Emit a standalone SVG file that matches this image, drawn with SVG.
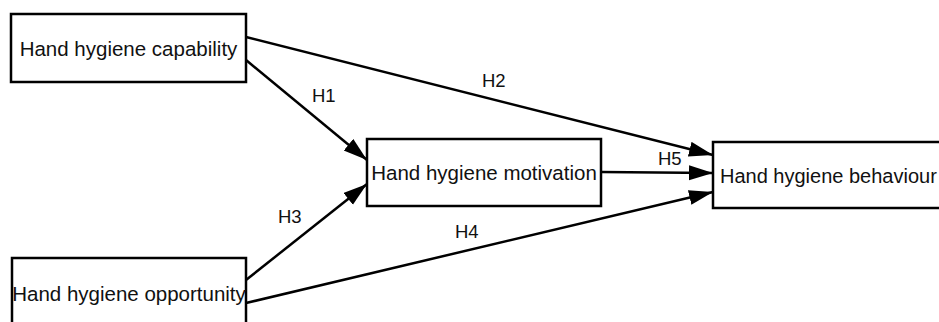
<svg xmlns="http://www.w3.org/2000/svg" width="939" height="322" viewBox="0 0 939 322">
<style>
.box{fill:#fff;stroke:#000;stroke-width:2.5}
.nt{font-family:"Liberation Sans",Arial,sans-serif;font-size:20.5px;fill:#111;text-anchor:middle}
.lbl{font-family:"Liberation Sans",Arial,sans-serif;font-size:18.5px;fill:#111}
.edge{stroke:#000;stroke-width:2.5;fill:none;marker-end:url(#arr)}
</style>
<defs>
<marker id="arr" markerUnits="userSpaceOnUse" markerWidth="26" markerHeight="16" refX="24" refY="7.5" orient="auto">
<path d="M0,0 L24,7.5 L0,15 Z" fill="#000"/>
</marker>
</defs>
<rect width="939" height="322" fill="#fff"/>
<g id="connectors">
<line class="edge" x1="246" y1="37" x2="713" y2="155"/>
<line class="edge" x1="246" y1="60" x2="367" y2="160"/>
<line class="edge" x1="246" y1="280" x2="367" y2="184"/>
<line class="edge" x1="246" y1="303" x2="713" y2="192"/>
<line class="edge" x1="601" y1="172" x2="713" y2="173"/>
<text class="lbl" x="312" y="102">H1</text>
<text class="lbl" x="482" y="87">H2</text>
<text class="lbl" x="278" y="223">H3</text>
<text class="lbl" x="455" y="238">H4</text>
<text class="lbl" x="658" y="165">H5</text>
</g>
<g id="capability">
<rect class="box" x="11" y="14" width="235" height="68"/>
<text class="nt" x="128.5" y="55.5">Hand hygiene capability</text>
</g>
<g id="motivation">
<rect class="box" x="367" y="139" width="234" height="67"/>
<text class="nt" x="484" y="180">Hand hygiene motivation</text>
</g>
<g id="behaviour">
<rect class="box" x="713" y="142" width="240" height="66"/>
<text class="nt" x="720" y="183" style="text-anchor:start;font-size:20px">Hand hygiene behaviour</text>
</g>
<g id="opportunity">
<rect class="box" x="12" y="258" width="234" height="72"/>
<text class="nt" x="129" y="301">Hand hygiene opportunity</text>
</g>
</svg>
